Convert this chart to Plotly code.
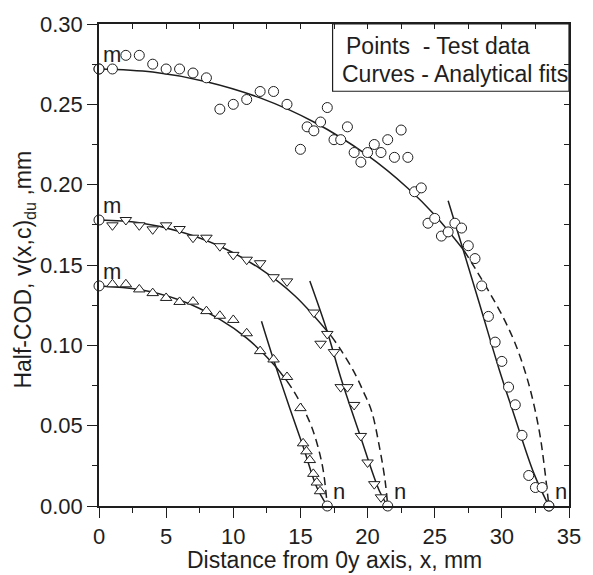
import plotly.graph_objects as go

# ---- test data: half-COD profiles (x in mm, v in mm) ----
circ_x = [0, 1, 2, 3, 4, 5, 6, 7, 8, 9, 10, 11, 12, 13, 14, 15, 15.5, 16, 16.5, 17,
          17.5, 18, 18.5, 19, 19.5, 20, 20.5, 21, 21.5, 22, 22.5, 23, 23.5, 24, 24.5,
          25, 25.5, 26, 26.5, 27, 27.5, 28, 28.5, 29, 29.5, 30, 30.5, 31, 31.5, 32,
          32.5, 33, 33.5]
circ_v = [0.272, 0.272, 0.2805, 0.2805, 0.275, 0.272, 0.272, 0.2695, 0.2665, 0.247,
          0.250, 0.253, 0.258, 0.258, 0.250, 0.222, 0.236, 0.2335, 0.239, 0.248,
          0.228, 0.228, 0.236, 0.220, 0.214, 0.220, 0.225, 0.220, 0.228, 0.217,
          0.234, 0.217, 0.1956, 0.198, 0.176, 0.179, 0.168, 0.1706, 0.176, 0.173,
          0.162, 0.154, 0.137, 0.118, 0.102, 0.090, 0.074, 0.063, 0.044, 0.019,
          0.0115, 0.0115, 0.0]

tdn_x = [1, 2, 3, 4, 5, 6, 7, 8, 9, 10, 11, 12, 13, 14, 16, 16.5, 17, 17.5, 18,
         18.5, 19, 19.5, 20, 20.5, 21]
tdn_v = [0.1747, 0.178, 0.1747, 0.1722, 0.1747, 0.1724, 0.167, 0.167, 0.1617,
         0.1563, 0.1533, 0.1511, 0.1424, 0.1398, 0.1204, 0.101, 0.1071, 0.0958,
         0.074, 0.074, 0.0629, 0.0436, 0.0271, 0.0136, 0.0054]

tup_x = [1, 2, 3, 4, 5, 6, 7, 8, 9, 10, 11, 12, 13, 14, 15, 15.2, 15.45, 15.7,
         15.96, 16.22, 16.46]
tup_v = [0.138, 0.138, 0.1348, 0.1325, 0.1295, 0.127, 0.1272, 0.1213, 0.1184,
         0.1158, 0.1075, 0.0964, 0.0912, 0.0803, 0.0609, 0.039, 0.034, 0.0286,
         0.02, 0.0146, 0.0092]

# end points m (crack mouth) and n (crack tip)
m_x = [0, 0, 0]
m_v = [0.272, 0.178, 0.137]
n_x = [33.5, 21.5, 17.0]
n_v = [0.0, 0.0, 0.0]

# ---- analytical fits ----
fit1_x = [0, 4, 8, 12, 16, 20, 23, 25, 27.2]
fit1_v = [0.272, 0.2701, 0.2641, 0.2540, 0.2390, 0.2182, 0.1978, 0.1811, 0.1588]
dash1_x = [27.2, 28, 29, 30, 31, 32, 32.8, 33.2, 33.5]
dash1_v = [0.1588, 0.148, 0.134, 0.119, 0.101, 0.076, 0.046, 0.022, 0.0]
tip1_x = [26.0, 27.1, 28.4, 29.8, 30.9, 32.4, 33.5]
tip1_v = [0.190, 0.160, 0.124, 0.085, 0.057, 0.020, 0.0]

fit2_x = [0, 3, 6, 9, 12, 14.6, 17.3]
fit2_v = [0.178, 0.1763, 0.1709, 0.1617, 0.1477, 0.1307, 0.1057]
dash2_x = [17.3, 18, 19, 19.7, 20.3, 20.9, 21.3, 21.5]
dash2_v = [0.1057, 0.0973, 0.0833, 0.071, 0.059, 0.036, 0.016, 0.0]
tip2_x = [15.7, 17.0, 18.0, 19.4, 20.9, 21.5]
tip2_v = [0.140, 0.1085, 0.080, 0.045, 0.009, 0.0]

fit3_x = [0, 3, 6, 9, 11, 13, 14]
fit3_v = [0.137, 0.1348, 0.1282, 0.1162, 0.1045, 0.0883, 0.0777]
dash3_x = [14.0, 14.5, 15.2, 15.8, 16.3, 16.7, 17.0]
dash3_v = [0.0777, 0.0715, 0.061, 0.050, 0.037, 0.022, 0.0]
tip3_x = [12.1, 13.0, 14.2, 15.2, 16.2, 17.0]
tip3_v = [0.115, 0.091, 0.061, 0.037, 0.012, 0.0]

INK = "#1e1e1e"
FONT = "Liberation Sans, Arial, sans-serif"

fig = go.Figure()

def curve(x, y, dash="solid"):
    fig.add_trace(go.Scatter(x=x, y=y, mode="lines", line_shape="spline",
                             line=dict(color=INK, width=1.5, dash=dash),
                             showlegend=False, hoverinfo="skip", cliponaxis=False))

for cx, cy in [(fit1_x, fit1_v), (tip1_x, tip1_v), (fit2_x, fit2_v),
               (tip2_x, tip2_v), (fit3_x, fit3_v), (tip3_x, tip3_v)]:
    curve(cx, cy)
for cx, cy in [(dash1_x, dash1_v), (dash2_x, dash2_v), (dash3_x, dash3_v)]:
    curve(cx, cy, dash="8px,5px")

def pts(x, y, symbol, size):
    fig.add_trace(go.Scatter(x=x, y=y, mode="markers", cliponaxis=False,
                             marker=dict(symbol=symbol, size=size, color="white",
                                         line=dict(color=INK, width=1)),
                             showlegend=False, hoverinfo="skip"))

pts(circ_x, circ_v, "circle", 10)
pts(tdn_x, tdn_v, "triangle-down", 10)
pts(tup_x, tup_v, "triangle-up", 10)
pts(m_x, m_v, "circle", 10)
pts(n_x, n_v, "circle", 10)

# labels at the end points
for x, v in zip(m_x, m_v):
    fig.add_annotation(x=x + 1.0, y=v + 0.0092, text="m", showarrow=False,
                       xanchor="center", yanchor="middle",
                       font=dict(size=22, color=INK, family=FONT))
for x, v in zip(n_x, n_v):
    fig.add_annotation(x=x + 0.9, y=v + 0.0089, text="n", showarrow=False,
                       xanchor="center", yanchor="middle",
                       font=dict(size=22, color=INK, family=FONT))

# hidden trace so the mirrored top/right axes are drawn
fig.add_trace(go.Scatter(x=[None], y=[None], xaxis="x2", yaxis="y2",
                         showlegend=False, hoverinfo="skip"))

axis_common = dict(showgrid=False, zeroline=False, showline=True, linecolor=INK,
                   linewidth=1.5, tickcolor=INK, tickwidth=1.3,
                   tickfont=dict(size=22, color=INK, family=FONT))

fig.update_layout(
    width=593, height=575,
    margin=dict(l=99, r=24, t=19, b=69),
    paper_bgcolor="white", plot_bgcolor="white",
    font=dict(family=FONT, color=INK),
    xaxis=dict(range=[0, 35], dtick=5, ticks="outside", ticklen=10,
               minor=dict(dtick=2.5, ticks="outside", ticklen=5, tickcolor=INK),
               **axis_common),
    yaxis=dict(range=[0, 0.30], dtick=0.05, tickformat=".2f", ticks="outside",
               ticklen=10,
               minor=dict(dtick=0.025, ticks="outside", ticklen=5, tickcolor=INK),
               **axis_common),
    xaxis2=dict(range=[0, 35], overlaying="x", side="top", anchor="y", dtick=2.5,
                ticks="inside", ticklen=5, showticklabels=False, showgrid=False,
                zeroline=False, showline=True, linecolor=INK, linewidth=1.5,
                tickcolor=INK, tickwidth=1),
    yaxis2=dict(range=[0, 0.30], overlaying="y", side="right", anchor="x", dtick=0.025,
                ticks="inside", ticklen=5, showticklabels=False, showgrid=False,
                zeroline=False, showline=True, linecolor=INK, linewidth=1.5,
                tickcolor=INK, tickwidth=1),
)

# axis titles
fig.add_annotation(xref="paper", yref="paper", x=0.5, y=-0.111, yanchor="middle",
                   xanchor="center", text="Distance from 0y axis, x, mm",
                   showarrow=False, font=dict(size=23, color=INK, family=FONT))
fig.add_annotation(xref="paper", yref="paper", x=-0.158, y=0.49, textangle=-90,
                   xanchor="center", yanchor="middle",
                   text="Half-COD, v(x,c)<sub>du</sub> ,mm", showarrow=False,
                   font=dict(size=23, color=INK, family=FONT))

# key box
fig.add_shape(type="rect", xref="paper", yref="paper", x0=0.497, x1=1.0,
              y0=0.8605, y1=1.0, line=dict(color=INK, width=1.2), fillcolor="white",
              layer="below")
fig.add_annotation(xref="paper", yref="paper", x=0.5213, y=0.954, xanchor="left",
                   yanchor="middle", text="Points\u00a0\u00a0- Test data",
                   showarrow=False, font=dict(size=23, color=INK, family=FONT))
fig.add_annotation(xref="paper", yref="paper", x=0.5128, y=0.897, xanchor="left",
                   yanchor="middle", text="Curves - Analytical fits",
                   showarrow=False, font=dict(size=23, color=INK, family=FONT))

fig.write_html("out.html")
